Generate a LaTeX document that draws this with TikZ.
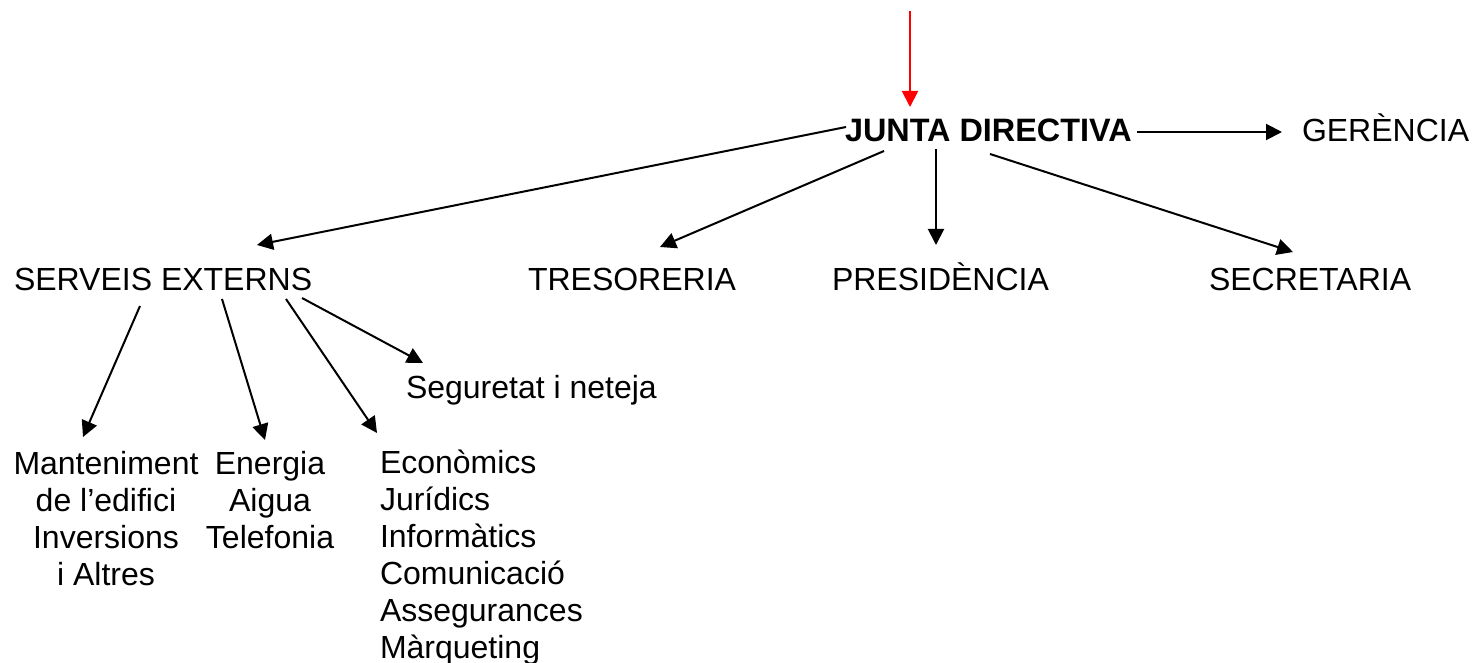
\documentclass[tikz,border=0pt]{standalone}
\usepackage{fontspec}
\setmainfont{Liberation Sans}
\usetikzlibrary{arrows.meta}
\begin{document}
\begin{tikzpicture}[x=0.5pt,y=-0.5pt,
  every node/.style={inner sep=0pt,outer sep=0pt,font=\fontsize{16pt}{18.5pt}\selectfont},
  lbl/.style={anchor=base west},
  conn/.style={line width=1pt,-{Triangle[length=8pt,width=8pt]}},
  redconn/.style={conn,red}]
\useasboundingbox (0,0) rectangle (1474,663);
\node[lbl,font=\fontsize{16.2pt}{18.5pt}\selectfont\bfseries] (junta) at (845,142) {JUNTA DIRECTIVA};
\node[lbl] (gerencia) at (1302,142) {GERÈNCIA};
\node[lbl] (serveis) at (14,291) {SERVEIS EXTERNS};
\node[lbl] (tresoreria) at (528,291) {TRESORERIA};
\node[lbl] (presidencia) at (832,291) {PRESIDÈNCIA};
\node[lbl] (secretaria) at (1209,291) {SECRETARIA};
\node[lbl] (seguretat) at (406,399) {Seguretat i neteja};
% for multi-line nodes the base anchor is the baseline of the last line
\node[anchor=base,align=center] (manteniment) at (106,585) {Manteniment\\de l’edifici\\Inversions\\i Altres};
\node[anchor=base,align=center] (energia) at (270,548) {Energia\\Aigua\\Telefonia};
\node[anchor=base west,align=left] (economics) at (380,658) {Econòmics\\Jurídics\\Informàtics\\Comunicació\\Assegurances\\Màrqueting};
\coordinate (top) at (910,11);
% connectors
\draw[redconn] (top) -- ([shift={(65,-35)}]junta.base west);
\draw[conn] ([shift={(5,-10)}]junta.base east) -- ([shift={(-20,-10)}]gerencia.base west);
\draw[conn] ([shift={(1,-15)}]junta.base west) -- ([shift={(243,-46)}]serveis.base west);
\draw[conn] ([shift={(39,9)}]junta.base west) -- ([shift={(132,-44)}]tresoreria.base west);
\draw[conn] ([shift={(91,7)}]junta.base west) -- ([shift={(104,-46)}]presidencia.base west);
\draw[conn] ([shift={(145,12)}]junta.base west) -- ([shift={(84,-39)}]secretaria.base west);
\draw[conn] ([shift={(126,15)}]serveis.base west) -- ([shift={(-23,-148)}]manteniment.base);
\draw[conn] ([shift={(208,8)}]serveis.base west) -- ([shift={(-5,-108)}]energia.base);
\draw[conn] ([shift={(272,8)}]serveis.base west) -- ([shift={(-3,-225)}]economics.base west);
\draw[conn] ([shift={(288,7)}]serveis.base west) -- ([shift={(17,-36)}]seguretat.base west);
\end{tikzpicture}
\end{document}
